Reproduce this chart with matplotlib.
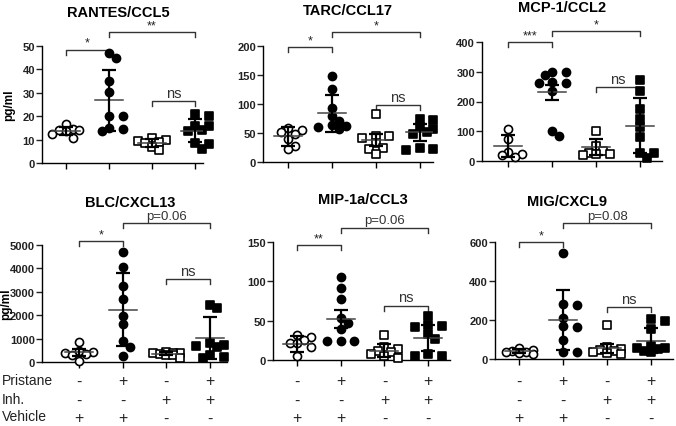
import numpy as np
import matplotlib
matplotlib.use("Agg")
import matplotlib.pyplot as plt

plt.rcParams['font.family'] = ['Liberation Sans', 'DejaVu Sans']

# --- data (pg/ml), groups: Veh, Pristane, Inh, Pristane+Inh
rantes = [[16.5, 14.5, 14, 14, 13.5, 12.5, 10.5],
          [47, 45, 35, 30.5, 20, 20, 15, 14.5, 13.5],
          [10.5, 10, 9.5, 9, 8.5, 7, 5.5],
          [21, 20, 16, 16, 14, 13.5, 8.5, 8, 6]]
rantes_mean = [13.7, 26.8, 8.6, 13.8]
rantes_err = [1.8, 13, 1.6, 5]

tarc = [[58, 55, 52, 48, 40, 28, 22],
        [148, 126, 93, 80, 70, 63, 62, 60, 57],
        [82, 45, 44, 42, 32, 25, 23, 14],
        [75, 72, 60, 57, 52, 48, 25, 22, 21]]
tarc_mean = [44, 84, 38, 51]
tarc_err = [16, 32, 10, 14]

mcp1 = [[108, 75, 30, 22, 20, 12],
        [300, 298, 290, 265, 262, 262, 235, 102, 85],
        [102, 50, 35, 28, 25, 22, 20],
        [272, 235, 175, 140, 115, 80, 28, 28, 10]]
mcp1_mean = [51, 231, 47, 119]
mcp1_err = [37, 26, 28, 92]

blc = [[870, 480, 420, 400, 350, 280, 60],
       [4720, 4050, 3230, 2690, 1950, 1620, 910, 630, 240],
       [420, 400, 390, 370, 340, 320, 300, 180],
       [2450, 2300, 800, 730, 700, 650, 300, 200, 150]]
blc_mean = [410, 2240, 350, 1010]
blc_err = [140, 1570, 70, 900]

mip1a = [[32, 29, 25, 22, 21, 16, 5],
         [105, 91, 78, 54, 47, 40, 24, 24, 24],
         [32, 16, 14, 12, 10, 8, 5, 3],
         [56, 44, 43, 42, 33, 27, 8, 5, 5]]
mip1a_mean = [20, 52, 12, 28]
mip1a_err = [10, 11, 8, 17]

mig = [[55, 45, 40, 38, 35, 30, 25],
       [544, 280, 275, 212, 168, 165, 95, 35, 35],
       [175, 60, 50, 45, 40, 35, 30, 25],
       [205, 195, 155, 65, 58, 55, 50, 42, 35]]
mig_mean = [40, 200, 55, 94]
mig_err = [10, 154, 22, 63]

titles = ['RANTES/CCL5', 'TARC/CCL17', 'MCP-1/CCL2', 'BLC/CXCL13', 'MIP-1a/CCL3', 'MIG/CXCL9']
yticks = [[0, 10, 20, 30, 40, 50], [0, 50, 100, 150, 200], [0, 100, 200, 300, 400],
          [0, 1000, 2000, 3000, 4000, 5000], [0, 50, 100, 150], [0, 200, 400, 600]]
sig_labels = [['*', '**', 'ns'], ['*', '*', 'ns'], ['***', '*', 'ns'],
              ['*', 'p=0.06', 'ns'], ['**', 'p=0.06', 'ns'], ['*', 'p=0.08', 'ns']]
sig_heights = [[48.5, 56, 26.5], [198, 224, 98], [400, 437, 249],
               [5170, 5940, 3550], [146, 168, 69], [600, 697, 267]]

pristane = ['-', '+', '-', '+']
inh = ['-', '-', '+', '+']
vehicle = ['+', '+', '-', '-']
row_names = ['Pristane', 'Inh.', 'Vehicle']

panels = [(rantes, rantes_mean, rantes_err), (tarc, tarc_mean, tarc_err),
          (mcp1, mcp1_mean, mcp1_err), (blc, blc_mean, blc_err),
          (mip1a, mip1a_mean, mip1a_err), (mig, mig_mean, mig_err)]

W, H = 676, 427
fig = plt.figure(figsize=(W / 100, H / 100), dpi=100)

# axes boxes in pixels: left, right, y0 (bottom), ytop
boxes = [(42, 203, 164, 47), (263, 433, 163, 47), (482, 662, 162, 43),
         (42, 227, 363, 246), (273, 450, 361, 243), (495, 673, 360, 243)]
xlims = [(-0.55, 3.18), (-0.57, 3.3), (-0.6, 3.5), (-0.85, 3.39), (-0.55, 3.5), (-0.55, 3.5)]
title_pos = [(118, 13), (348, 11), (562, 8), (130, 203), (363, 200), (567, 202)]
ylab_x = [15, None, None, 12, None, None]

markers = ['o', 'o', 's', 's']
faces = ['white', 'black', 'white', 'black']
msize = 8.5  # px diameter


def swarm(vals, ypp, xpp):
    # compact beeswarm in pixel space, at most two steps either side
    placed = []
    xs = []
    step = msize * 0.8
    for v in vals:
        yp = v / ypp
        best, best_d = 0, -1
        for k in [0, 1, -1, 2, -2]:
            xp = k * step
            d = min([np.hypot(xp - a, yp - b) for a, b in placed] + [99])
            if d >= msize * 0.85:
                best = xp
                break
            if d > best_d + 1:
                best, best_d = xp, d
        placed.append((best, yp))
        xs.append(best * xpp)
    return xs


for i, (groups, means, errs) in enumerate(panels):
    l, r, b, t = boxes[i]
    ax = fig.add_axes([l / W, 1 - b / H, (r - l) / W, (b - t) / H])
    ymax = yticks[i][-1]
    ax.set_ylim(0, ymax)
    ax.set_xlim(*xlims[i])
    ypp = ymax / (b - t)
    xpp = (xlims[i][1] - xlims[i][0]) / (r - l)
    for g, vals in enumerate(groups):
        offs = swarm(vals, ypp, xpp)
        ax.scatter(np.array(offs) + g, vals, s=msize ** 2 * 0.47, marker=markers[g],
                   facecolor=faces[g], edgecolor='black', linewidth=1.2, zorder=3, clip_on=False)
        ax.plot([g - 0.32, g + 0.32], [means[g], means[g]], color='#444444', lw=1.1, zorder=4)
        ax.errorbar(g, means[g], yerr=errs[g], fmt='none', ecolor='black', elinewidth=1.6,
                    capsize=5, capthick=1.6, zorder=4)
    # significance brackets
    tick = ymax * 0.045
    pairs = [(0, 1), (1, 3), (2, 3)]
    for (a, c), lab, h in zip(pairs, sig_labels[i], sig_heights[i]):
        ax.plot([a, a, c, c], [h - tick, h, h, h - tick], color='#333333', lw=1.0,
                clip_on=False)
        if lab.startswith('*'):
            ax.annotate(lab, ((a + c) / 2, h), xytext=(0, 0.5), textcoords='offset points',
                        ha='center', va='bottom', fontsize=9, color='#222222',
                        annotation_clip=False)
        else:
            ax.annotate(lab, ((a + c) / 2, h), xytext=(0, 1), textcoords='offset points',
                        ha='center', va='bottom', fontsize=10.5 if lab == 'ns' else 9.5,
                        color='#333333', annotation_clip=False)
    ax.set_yticks(yticks[i])
    ax.set_xticks(range(4))
    ax.set_xticklabels([])
    for lab in ax.get_yticklabels():
        lab.set_fontweight('bold')
    ax.tick_params(axis='y', labelsize=8, length=4, width=1, pad=1, colors='#222222')
    ax.tick_params(axis='x', length=4, width=1)
    ax.spines['top'].set_visible(False)
    ax.spines['right'].set_visible(False)
    for s in ['left', 'bottom']:
        ax.spines[s].set_linewidth(1.0)
    tx, ty = title_pos[i]
    fig.text(tx / W, 1 - ty / H, titles[i], ha='center', va='center', fontsize=10.5,
             fontweight='bold')
    if ylab_x[i] is not None:
        ax.set_ylabel('pg/ml', fontsize=8.5, fontweight='bold')
        ax.yaxis.set_label_coords((ylab_x[i] - l) / (r - l), 0.5)
    if i >= 3:
        for row, signs in enumerate([pristane, inh, vehicle]):
            yrow = [382, 401, 419][row]
            for g, sgn in enumerate(signs):
                ax.annotate(sgn, (g, 0), xycoords=('data', 'axes fraction'),
                            xytext=(g, 1 - yrow / H), textcoords=('data', 'figure fraction'),
                            ha='center', va='center', fontsize=11.5, color='#222222',
                            annotation_clip=False)

for row, name in enumerate(row_names):
    fig.text(2 / W, 1 - [381, 400, 417][row] / H, name, ha='left', va='center',
             fontsize=10, color='#222222')

fig.savefig('out.png', dpi=100)
